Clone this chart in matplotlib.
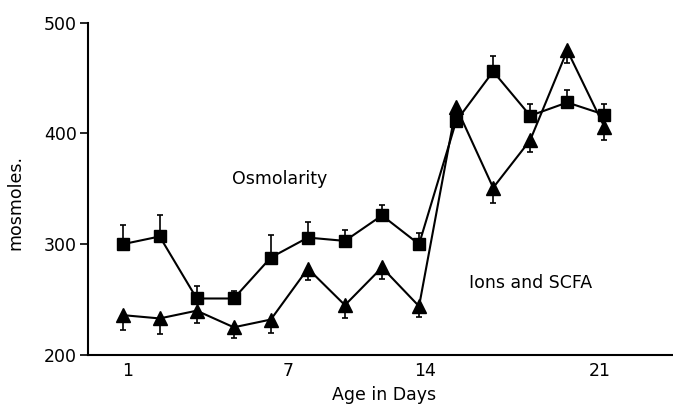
import matplotlib
matplotlib.use('Agg')
import matplotlib.pyplot as plt
import numpy as np

plt.rcParams['font.family'] = 'DejaVu Sans'
plt.rcParams['font.size'] = 12.5

# sampling days (14 points)
days = [1, 2.5, 4, 5.5, 7, 8.5, 10, 11.5, 13, 14.5, 16, 17.5, 19, 20.5]

# Osmolarity (squares), upper error bars
osmo = [300, 307, 251, 251, 288, 306, 303, 326, 300, 411, 456, 416, 428, 417]
osmo_err = [17, 19, 11, 7, 20, 14, 10, 9, 10, 0, 14, 11, 11, 10]

# Ions and SCFA (triangles), lower error bars
ions = [236, 233, 240, 225, 232, 278, 245, 279, 244, 424, 351, 394, 475, 406]
ions_err = [13, 14, 11, 10, 12, 10, 12, 10, 10, 0, 14, 11, 11, 12]

tick_pos = [1.2, 7.7, 13.25, 20.3]
tick_lab = ['1', '7', '14', '21']

fig = plt.figure(figsize=(6.73, 4.07), dpi=100)
ax = fig.add_axes([0.1308, 0.1278, 0.8692, 0.8164])

zeros = np.zeros(len(days))
ax.errorbar(days, osmo, yerr=[zeros, osmo_err], color='black', lw=1.5,
            marker='s', markersize=8.5, capsize=2.5, elinewidth=1.2, capthick=1.2)
ax.errorbar(days, ions, yerr=[ions_err, zeros], color='black', lw=1.5,
            marker='^', markersize=10, capsize=2.5, elinewidth=1.2, capthick=1.2)

ax.text(7.37, 359, 'Osmolarity', ha='center', va='center')
ax.text(17.5, 265, 'Ions and SCFA', ha='center', va='center')

ax.set_xlim(-0.4, 23.28)
ax.set_ylim(200, 500)
ax.set_yticks([200, 300, 400, 500])
ax.set_xticks(tick_pos)
ax.set_xticklabels(tick_lab)
ax.tick_params(axis='x', length=0, pad=5)
ax.tick_params(axis='y', direction='out', length=6, width=1.2, pad=2)

for s in ['top', 'right']:
    ax.spines[s].set_visible(False)
for s in ['left', 'bottom']:
    ax.spines[s].set_linewidth(1.5)

ax.set_xlabel('Age in Days')
ax.xaxis.set_label_coords(0.506, -0.094)
ax.set_ylabel('mosmoles.')
ax.yaxis.set_label_coords(-0.109, 0.46)

fig.savefig('out.png', dpi=100)
